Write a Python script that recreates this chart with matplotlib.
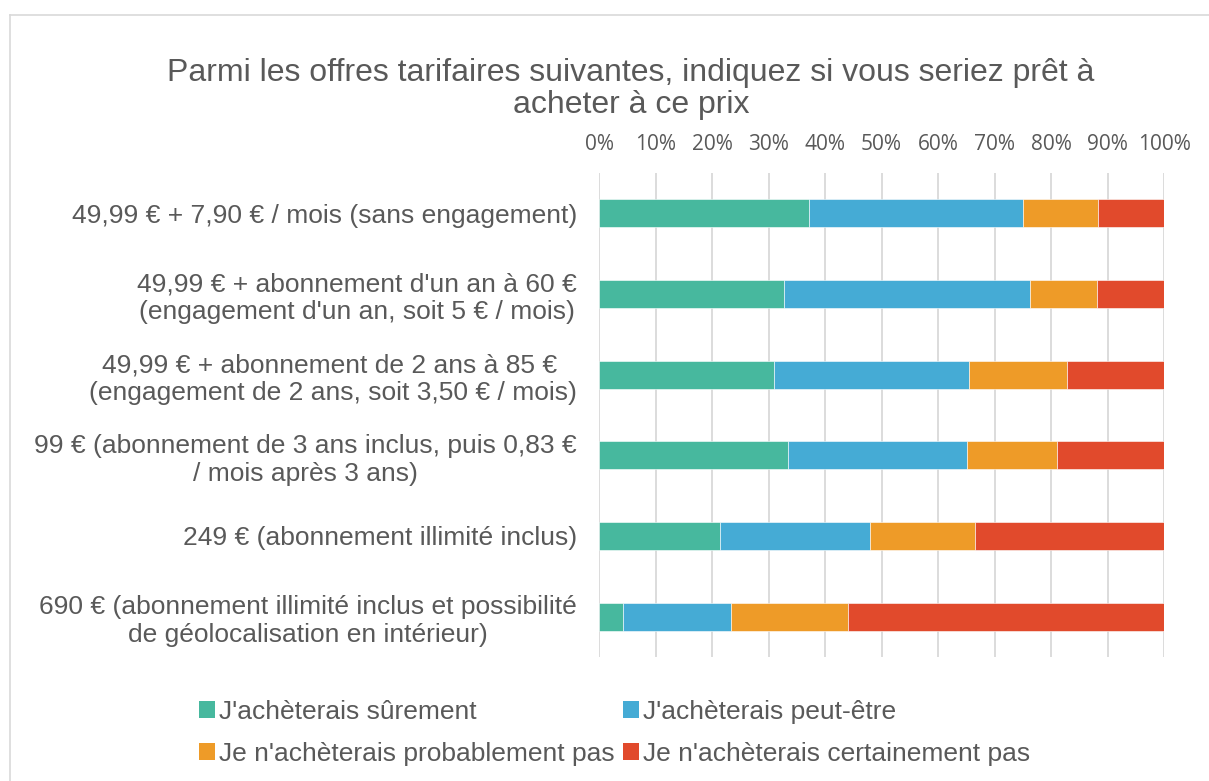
import matplotlib
matplotlib.use("Agg")
import matplotlib.pyplot as plt
from matplotlib.lines import Line2D
from matplotlib.patches import Patch
from matplotlib.ticker import FuncFormatter, MultipleLocator
import numpy as np

categories = [
    "49,99 € + 7,90 € / mois (sans engagement)",
    "49,99 € + abonnement d'un an à 60 €\n(engagement d'un an, soit 5 € / mois)",
    "49,99 € + abonnement de 2 ans à 85 € \n(engagement de 2 ans, soit 3,50 € / mois)",
    "99 € (abonnement de 3 ans inclus, puis 0,83 €\n/ mois après 3 ans)",
    "249 € (abonnement illimité inclus)",
    "690 € (abonnement illimité inclus et possibilité\nde géolocalisation en intérieur)",
]
series_names = [
    "J'achèterais sûrement",
    "J'achèterais peut-être",
    "Je n'achèterais probablement pas",
    "Je n'achèterais certainement pas",
]
surement = [37.1, 32.7, 30.9, 33.5, 21.5, 4.3]
peut_etre = [37.9, 43.5, 34.5, 31.7, 26.5, 19.1]
probablement_pas = [13.4, 11.9, 17.4, 15.8, 18.5, 20.6]
certainement_pas = [11.6, 11.9, 17.2, 19.0, 33.5, 56.0]
colors = ["#47B89E", "#45ABD5", "#EE9B28", "#E14A2C"]

TXT = "#595959"
W, H = 1209, 781
fig = plt.figure(figsize=(W / 100, H / 100), dpi=100)
ax = fig.add_axes([599 / W, 1 - 657 / H, (1164 - 599) / W, (657 - 173) / H])

data = [surement, peut_etre, probablement_pas, certainement_pas]
y = np.arange(len(categories))
left = np.zeros(len(categories))
for vals, name, col in zip(data, series_names, colors):
    v = np.array(vals)
    ax.barh(y, v, left=left, height=0.35, color=col, label=name,
            edgecolor="#ffffff", linewidth=0.4, zorder=3)
    left += v

ax.set_xlim(0, 100)
ax.set_ylim(len(categories) - 0.5, -0.5)
ax.xaxis.set_major_locator(MultipleLocator(10))
ax.xaxis.set_major_formatter(FuncFormatter(lambda v, p: f"{int(round(v))}%"))
ax.xaxis.tick_top()
ax.tick_params(axis="x", length=0, pad=13, labelsize=15, labelcolor=TXT)
for lab in ax.get_xticklabels():
    lab.set_family(["Open Sans", "DejaVu Sans"])
ax.set_yticks(y)
ax.set_yticklabels(categories, fontsize=19, color=TXT, family="Liberation Sans",
                   multialignment="center", linespacing=1.2)
ax.tick_params(axis="y", length=0, pad=16)
ax.grid(axis="x", color="#D9D9D9", linewidth=1.3, zorder=0)
for s in ax.spines.values():
    s.set_visible(False)

fig.text(631 / W, 1 - 89 / H,
         "Parmi les offres tarifaires suivantes, indiquez si vous seriez prêt à\nacheter à ce prix",
         ha="center", va="center", fontsize=23, color=TXT, family="Liberation Sans",
         linespacing=1.1)

handles = [Patch(facecolor=c, edgecolor="none") for c in colors]
order = [0, 2, 1, 3]
leg = fig.legend([handles[i] for i in order], [series_names[i] for i in order],
                 ncol=2, loc="center left", bbox_to_anchor=(175 / W, 1 - 733 / H),
                 frameon=False, handlelength=0.6, handleheight=0.6, handletextpad=0.15,
                 columnspacing=0.35, labelspacing=0.68,
                 prop={"family": "Liberation Sans", "size": 19})
for t in leg.get_texts():
    t.set_color(TXT)

# outer frame (partially visible)
fig.add_artist(Line2D([9.5 / W, 9.5 / W], [0, 1 - 14.5 / H], transform=fig.transFigure,
                      color="#D9D9D9", linewidth=1.2))
fig.add_artist(Line2D([9.5 / W, 1], [1 - 14.5 / H, 1 - 14.5 / H], transform=fig.transFigure,
                      color="#D9D9D9", linewidth=1.2))

fig.savefig("out.png", dpi=100, facecolor="white")
